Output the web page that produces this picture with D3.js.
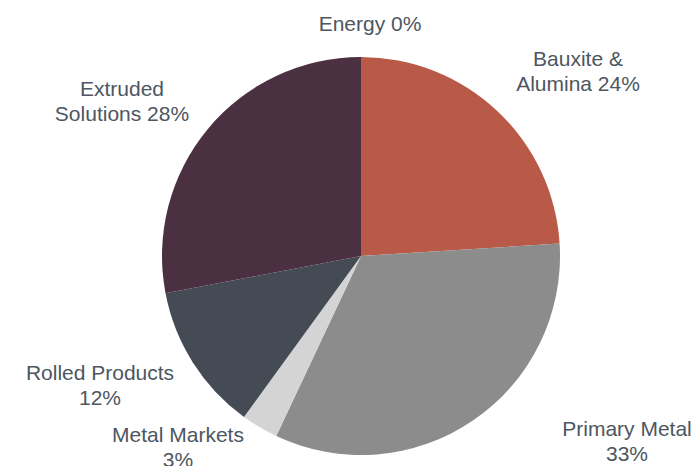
<!DOCTYPE html>
<html>
<head>
<meta charset="utf-8">
<script src="https://cdn.jsdelivr.net/npm/d3@7"></script>
<style>
  body { margin: 0; background: #fff; }
  svg { display: block; }
</style>
</head>
<body>
<svg id="chart" width="697" height="466"></svg>
<script>
let segments = ["Energy", "Bauxite & Alumina", "Primary Metal", "Metal Markets", "Rolled Products", "Extruded Solutions"];
let shares = [0, 24, 33, 3, 12, 28];
let labelLines = [
  ["Energy 0%"],
  ["Bauxite &", "Alumina 24%"],
  ["Primary Metal", "33%"],
  ["Metal Markets", "3%"],
  ["Rolled Products", "12%"],
  ["Extruded", "Solutions 28%"]
];

let segColors = {
  "Energy": "#9aa3ad",
  "Bauxite & Alumina": "#b85a47",
  "Primary Metal": "#8c8c8c",
  "Metal Markets": "#d4d4d4",
  "Rolled Products": "#444b55",
  "Extruded Solutions": "#4b3042"
}

// where each label block sits (center x, first baseline y)
let labelSpots = {
  "Energy": [370, 31],
  "Bauxite & Alumina": [578, 66],
  "Primary Metal": [627, 436],
  "Metal Markets": [178, 442],
  "Rolled Products": [100, 380],
  "Extruded Solutions": [122, 96]
}

let data = segments.map((s, i) => ({ name: s, value: shares[i], lines: labelLines[i] }));

let svg = d3.select("#chart")

let g = svg.append("g")
  .attr("transform", "translate(361,256)")

let pie = d3.pie()
  .sort(null)
  .value(d => d.value)

let arc = d3.arc()
  .innerRadius(0)
  .outerRadius(199)

g.selectAll(".slice")
  .data(pie(data).filter(d => d.data.value > 0))
  .join("path")
  .attr("class", "slice")
  .attr("d", arc)
  .attr("fill", d => segColors[d.data.name])

let labels = svg.selectAll(".lbl")
  .data(data)
  .join("text")
  .attr("class", "lbl")
  .attr("text-anchor", "middle")
  .style("font-family", "'Liberation Sans', Arial, sans-serif")
  .style("font-size", "21px")
  .attr("fill", "#4d5661")

labels.selectAll("tspan")
  .data(d => d.lines.map((t, i) => ({ t: t, i: i, name: d.name })))
  .join("tspan")
  .attr("x", d => labelSpots[d.name][0])
  .attr("y", d => labelSpots[d.name][1] + d.i * 25)
  .text(d => d.t)
</script>
</body>
</html>
